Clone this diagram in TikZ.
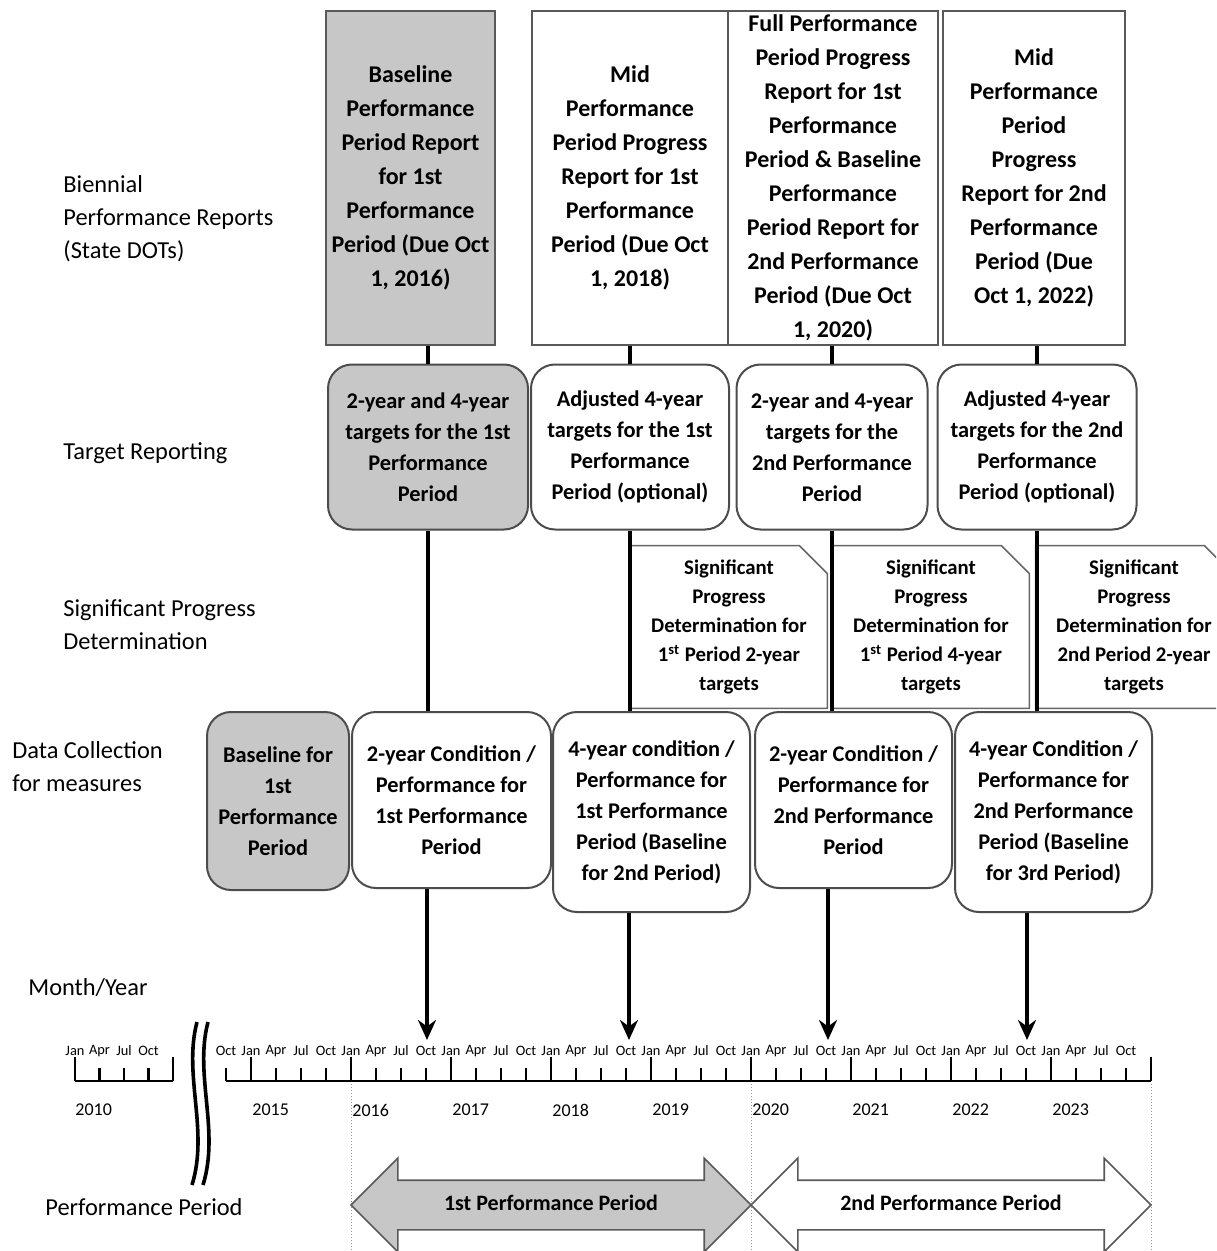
\documentclass[tikz,border=0pt]{standalone}
\usepackage{fontspec}
\setmainfont{Carlito}
\usetikzlibrary{arrows.meta,shapes.arrows,calc}

\begin{document}
\begin{tikzpicture}[
    x=0.5pt, y=-0.5pt,
    % ---- styles -------------------------------------------------
    report/.style={
        draw=black!65, line width=1pt, align=center, inner sep=2pt,
        minimum height=167pt, font=\bfseries\fontsize{12}{17}\selectfont},
    target/.style={
        rounded corners=12pt, draw=black!70, line width=1pt, align=center,
        inner sep=2pt, minimum height=82.5pt,
        font=\bfseries\fontsize{11.2}{15.5}\selectfont},
    collect/.style={target, minimum height=88pt},
    signif/.style={
        align=center, minimum width=98pt, minimum height=81pt, inner sep=1pt,
        font=\bfseries\fontsize{10.4}{14.5}\selectfont},
    fold/.style={draw=black!60, line width=0.8pt},
    shade/.style={fill=black!22},
    lane/.style={anchor=west, inner sep=0pt, align=left,
        font=\fontsize{12.2}{16.5}\selectfont},
    link/.style={line width=2pt, draw=black},
    down/.style={link, -{Stealth[length=10pt,width=9pt]}},
    axis/.style={line width=1.3pt, draw=black},
    month/.style={inner sep=0pt, font=\fontsize{7.2}{8}\selectfont},
    year/.style={anchor=west, inner sep=0pt, font=\fontsize{9}{10}\selectfont},
    period/.style={
        double arrow, double arrow head extend=11pt, double arrow head indent=0pt,
        minimum height=200pt, minimum width=46pt, inner xsep=0pt, inner ysep=6.75pt,
        text height=8pt, text depth=2.5pt, draw=black!65, line width=0.8pt,
        font=\bfseries\fontsize{11}{13}\selectfont},
]
\useasboundingbox (0,0) rectangle (1216,1251);
\clip (0,0) rectangle (1216,1251);

% =================== row labels ===============================
\node[lane] (lblReports) at (63,219) {Biennial\\Performance Reports\\(State DOTs)};
\node[lane] (lblTarget)  at (63,453) {Target Reporting};
\node[lane] (lblSignif)  at (63,625) {Significant Progress\\Determination};
\node[lane] (lblData)    at (12,767) {Data Collection\\for measures};
\node[lane] (lblMonth)   at (28,988) {Month/Year};
\node[lane] (lblPeriod)  at (45,1207) {Performance Period};

% =================== biennial reports ==========================
\node[report, shade, minimum width=84.5pt] (R1) at (410.5,178)
    {Baseline\\Performance\\Period Report\\for 1st\\Performance\\Period (Due Oct\\1, 2016)};
\node[report, minimum width=98pt] (R2) at (630,178)
    {Mid\\Performance\\Period Progress\\Report for 1st\\Performance\\Period (Due Oct\\1, 2018)};
\node[report, minimum width=105pt] (R3) at (833,178)
    {Full Performance\\Period Progress\\Report for 1st\\Performance\\Period \& Baseline\\Performance\\Period Report for\\2nd Performance\\Period (Due Oct\\1, 2020)};
\node[report, minimum width=91pt] (R4) at (1034,178)
    {Mid\\Performance\\Period\\Progress\\Report for 2nd\\Performance\\Period (Due\\Oct 1, 2022)};

% =================== target reporting ==========================
\node[target, shade, minimum width=100pt] (T1) at (428,447)
    {2-year and 4-year\\targets for the 1st\\Performance\\Period};
\node[target, minimum width=99pt] (T2) at (630,447)
    {Adjusted 4-year\\targets for the 1st\\Performance\\Period (optional)};
\node[target, minimum width=95.5pt] (T3) at (832,447)
    {2-year and 4-year\\targets for the\\2nd Performance\\Period};
\node[target, minimum width=99.5pt] (T4) at (1037,447)
    {Adjusted 4-year\\targets for the 2nd\\Performance\\Period (optional)};

% =================== significant progress ======================
\node[signif] (S1) at (729,627)
    {Significant\\Progress\\Determination for\\1\textsuperscript{st} Period 2-year\\targets};
\node[signif] (S2) at (931,627)
    {Significant\\Progress\\Determination for\\1\textsuperscript{st} Period 4-year\\targets};
\node[signif] (S3) at (1134,627)
    {Significant\\Progress\\Determination for\\2nd Period 2-year\\targets};
\foreach \s in {S1,S2,S3}
    \draw[fold] (\s.north west) -- ([xshift=-14pt]\s.north east)
        -- ([yshift=-14pt]\s.north east) -- (\s.south east) -- (\s.south west) -- cycle;

% =================== data collection ===========================
\node[collect, shade, minimum width=71pt, minimum height=89pt] (D1) at (278,801)
    {Baseline for\\1st\\Performance\\Period};
\node[collect, minimum width=99.5pt] (D2) at (451.5,800)
    {2-year Condition /\\Performance for\\1st Performance\\Period};
\node[collect, minimum width=98.5pt, minimum height=100pt] (D3) at (651.5,812)
    {4-year condition /\\Performance for\\1st Performance\\Period (Baseline\\for 2nd Period)};
\node[collect, minimum width=98.5pt] (D4) at (853.5,800)
    {2-year Condition /\\Performance for\\2nd Performance\\Period};
\node[collect, minimum width=98.5pt, minimum height=100pt] (D5) at (1053.5,812)
    {4-year Condition /\\Performance for\\2nd Performance\\Period (Baseline\\for 3rd Period)};

% =================== due dates on the time line ================
\coordinate (oct16) at (427,1040);
\coordinate (oct18) at (629,1040);
\coordinate (oct20) at (828,1040);
\coordinate (oct22) at (1027,1040);

\draw[link] (R1.south -| T1.north) -- (T1.north);
\draw[link] (T1.south) -- (T1.south |- D2.north);
\draw[down] (D2.south -| oct16) -- (oct16);

\draw[link] (R2.south -| T2.north) -- (T2.north);
\draw[link] (T2.south) -- (T2.south |- D3.north);
\draw[down] (D3.south -| oct18) -- (oct18);

\draw[link] (R3.south -| T3.north) -- (T3.north);
\draw[link] (T3.south) -- (T3.south |- D4.north);
\draw[down] (D4.south -| oct20) -- (oct20);

\draw[link] (R4.south -| T4.north) -- (T4.north);
\draw[link] (T4.south) -- (T4.south |- D5.north);
\draw[down] (D5.south -| oct22) -- (oct22);

% =================== time axis =================================
\foreach \m [count=\i from 0] in {Jan,Apr,Jul,Oct}
    \node[month] (old\i) at (75+24.5*\i,1051) {\m};
\draw[axis] (75,1081) -- (173,1081);
\foreach \i in {0,...,4}{
    \ifnum\i=0 \def\tkh{24}\else\ifnum\i=4 \def\tkh{24}\else\def\tkh{13}\fi\fi
    \draw[axis] (75+24.5*\i,1081) -- ++(0,-\tkh);
}
\node[year] (y2010) at (75,1110) {2010};

% axis break
\draw[line width=1.8pt] (197,1022) .. controls (183,1075) and (209,1130) .. (192,1185);
\draw[line width=1.8pt] (208,1022) .. controls (194,1075) and (220,1130) .. (203,1185);

\foreach \m [count=\i from 0] in {Oct,Jan,Apr,Jul,Oct,Jan,Apr,Jul,Oct,Jan,Apr,Jul,Oct,
        Jan,Apr,Jul,Oct,Jan,Apr,Jul,Oct,Jan,Apr,Jul,Oct,Jan,Apr,Jul,Oct,
        Jan,Apr,Jul,Oct,Jan,Apr,Jul,Oct}
    \node[month] (mon\i) at (226+25*\i,1051) {\m};
\draw[axis] (226,1081) -- (1151,1081);
\foreach \i in {0,...,37}{
    \pgfmathtruncatemacro\q{mod(\i,4)}
    \ifnum\q=1 \def\tkh{24}\else\def\tkh{13}\fi
    \draw[axis] (226+25*\i,1081) -- ++(0,-\tkh);
}
\foreach \y [count=\i from 0] in {2015,...,2023}
    \node[year] (y\y) at (252+100*\i,1110) {\y};

% period boundaries
\foreach \x in {351,751,1151}
    \draw[black!40, densely dotted, line width=0.5pt] (\x,1084) -- (\x,1251);

% =================== performance periods =======================
\node[period, shade] (P1) at (551,1205) {1st Performance Period};
\node[period, fill=white] (P2) at (951,1205) {2nd Performance Period};

\end{tikzpicture}
\end{document}
